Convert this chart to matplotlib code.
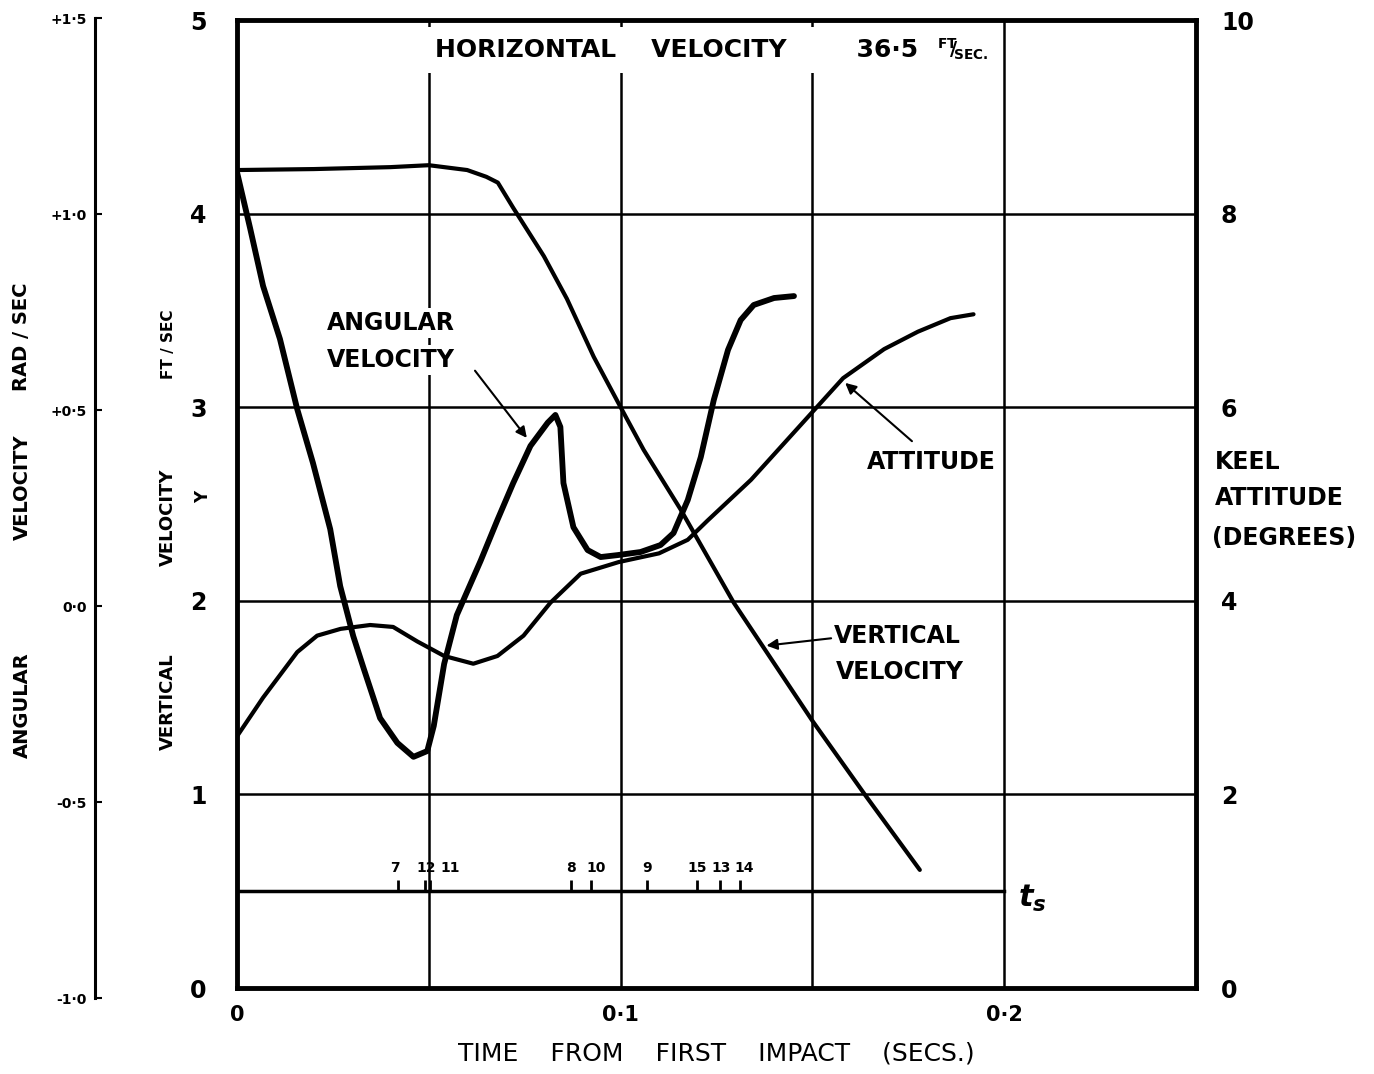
import matplotlib
matplotlib.use("Agg")
import matplotlib.pyplot as plt

plt.rcParams['font.family'] = ['DejaVu Sans']
plt.rcParams['font.weight'] = 'bold'

# vertical velocity (ft/sec)
t_vv = [0, 0.02, 0.04, 0.05, 0.06, 0.065, 0.068, 0.072, 0.08, 0.086, 0.093,
        0.1, 0.106, 0.1157, 0.1295, 0.15, 0.164, 0.178]
vv = [4.225, 4.23, 4.24, 4.25, 4.225, 4.19, 4.16, 4.03, 3.78, 3.56, 3.26,
      3.0, 2.78, 2.47, 1.99, 1.38, 0.99, 0.61]

# angular velocity (rad/sec)
t_av = [0, 0.0034, 0.0068, 0.0112, 0.0157, 0.0198, 0.0243, 0.0269, 0.0303,
        0.033, 0.0373, 0.0418, 0.046, 0.0496, 0.0513, 0.054, 0.0573, 0.0635,
        0.0679, 0.072, 0.0765, 0.081, 0.083, 0.0843, 0.0851, 0.0877, 0.0914,
        0.0948, 0.0992, 0.1052, 0.1104, 0.1138, 0.1175, 0.1209, 0.1243,
        0.128, 0.1313, 0.1347, 0.14, 0.1452]
av = [1.107, 0.963, 0.813, 0.676, 0.495, 0.356, 0.185, 0.038, -0.091,
      -0.174, -0.303, -0.367, -0.403, -0.388, -0.323, -0.163, -0.037, 0.103,
      0.209, 0.304, 0.40, 0.46, 0.48, 0.449, 0.304, 0.19, 0.131,
      0.113, 0.118, 0.126, 0.144, 0.175, 0.26, 0.371, 0.519,
      0.648, 0.725, 0.764, 0.782, 0.787]

# keel attitude (degrees)
t_att = [0, 0.0068, 0.0157, 0.0209, 0.027, 0.0347, 0.0407, 0.047, 0.054,
         0.0616, 0.0679, 0.0747, 0.0817, 0.0896, 0.0995, 0.110, 0.1175,
         0.1227, 0.134, 0.150, 0.158, 0.1687, 0.1775, 0.186, 0.192]
att = [2.60, 3.0, 3.47, 3.64, 3.71, 3.75, 3.73, 3.58, 3.43,
       3.35, 3.43, 3.64, 3.98, 4.28, 4.40, 4.49, 4.63,
       4.83, 5.25, 5.95, 6.30, 6.60, 6.78, 6.92, 6.96]

# t_s event marks
ts_level = 0.5
ts_end = 0.2
ts_times = [0.042, 0.049, 0.0504, 0.0872, 0.0924, 0.107, 0.120, 0.126, 0.131]
ts_lab_x = [0.0413, 0.0494, 0.0555, 0.0872, 0.0935, 0.107, 0.120, 0.1262, 0.1322]
ts_labels = ['7', '12', '11', '8', '10', '9', '15', '13', '14']

W, H = 1374, 1074
fig = plt.figure(figsize=(W / 100, H / 100), dpi=100)

def fx(px):
    return px / W

def fy(py):
    return 1 - py / H

ax = fig.add_axes([fx(237), fy(988), fx(1196) - fx(237), fy(20) - fy(988)])
ax.set_xlim(0, 0.25)
ax.set_ylim(0, 5)
ax.set_xticks([0, 0.05, 0.1, 0.15, 0.2, 0.25])
ax.set_xticklabels(['0', '', '0·1', '', '0·2', ''])
ax.set_yticks([0, 1, 2, 3, 4, 5])
ax.tick_params(axis='x', length=0, pad=12, labelsize=15)
ax.tick_params(axis='y', length=0, pad=22, labelsize=17)
ax.grid(True, color='black', lw=1.8)
ax.set_axisbelow(True)
for s in ax.spines.values():
    s.set_linewidth(3.5)

ax.plot(t_vv, vv, color='black', lw=3.0, zorder=4, solid_capstyle='round')

# t_s line
ax.plot([0, ts_end], [ts_level, ts_level], color='black', lw=2.5, zorder=4)
ax.vlines(ts_times, ts_level, ts_level + 0.06, color='black', lw=2, zorder=4)
for xl, lab in zip(ts_lab_x, ts_labels):
    ax.text(xl, ts_level + 0.12, lab, fontsize=10, ha='center', va='center')
ax.text(0.2035, 0.46, r'$t_s$', fontsize=22, ha='left', va='center')

box = dict(facecolor='white', edgecolor='none', pad=2)
ax.text(0.0517, 4.845, 'HORIZONTAL    VELOCITY        36·5', fontsize=18,
        ha='left', va='center', bbox=dict(facecolor='white', edgecolor='none',
                                           pad=8), zorder=3)
ax.text(0.1825, 4.85, r'$^{\mathbf{FT}}\!\!/\!_{\mathbf{SEC.}}$', fontsize=14,
        ha='left', va='center', bbox=dict(facecolor='white', edgecolor='none',
                                           pad=6), zorder=3)

ax.text(0.0235, 3.435, 'ANGULAR', fontsize=17, ha='left', va='center',
        bbox=box, zorder=3)
ax.text(0.0235, 3.244, 'VELOCITY', fontsize=17, ha='left', va='center',
        bbox=box, zorder=3)
ax.annotate('', xy=(0.076, 2.83), xytext=(0.0616, 3.20),
            arrowprops=dict(arrowstyle='-|>', color='black', lw=1.5,
                            mutation_scale=16), zorder=3)

ax.text(0.181, 2.717, 'ATTITUDE', fontsize=17, ha='center', va='center',
        bbox=box, zorder=3)
ax.annotate('', xy=(0.158, 3.135), xytext=(0.1765, 2.815),
            arrowprops=dict(arrowstyle='-|>', color='black', lw=1.5,
                            mutation_scale=16), zorder=3)

ax.text(0.1556, 1.818, 'VERTICAL', fontsize=17, ha='left', va='center',
        bbox=box, zorder=3)
ax.text(0.156, 1.632, 'VELOCITY', fontsize=17, ha='left', va='center',
        bbox=box, zorder=3)
ax.annotate('', xy=(0.1373, 1.767), xytext=(0.1556, 1.808),
            arrowprops=dict(arrowstyle='-|>', color='black', lw=1.5,
                            mutation_scale=16), zorder=3)

ax.set_xlabel('TIME    FROM    FIRST    IMPACT    (SECS.)', fontsize=18,
              labelpad=12)

# angular velocity on its own scale
ax_av = ax.twinx()
ax_av.set_ylim(-1.0, 1.5)
ax_av.axis('off')
ax_av.plot(t_av, av, color='black', lw=4.2, solid_capstyle='round')

# keel attitude on right scale
ax_att = ax.twinx()
ax_att.set_ylim(0, 10)
ax_att.set_yticks([0, 2, 4, 6, 8, 10])
ax_att.tick_params(axis='y', length=0, pad=18, labelsize=17)
for s in ax_att.spines.values():
    s.set_visible(False)
ax_att.plot(t_att, att, color='black', lw=3.0, solid_capstyle='round')

fig.text(fx(1215), fy(462), 'KEEL', fontsize=17, ha='left', va='center')
fig.text(fx(1215), fy(498), 'ATTITUDE', fontsize=17, ha='left', va='center')
fig.text(fx(1212), fy(538), '(DEGREES)', fontsize=17, ha='left', va='center')

# outer rad/sec scale
ax_l = fig.add_axes([fx(95), fy(998), 0.0005, fy(18) - fy(998)])
ax_l.set_ylim(-1.0, 1.5)
ax_l.set_xticks([])
ax_l.set_yticks([-1.0, -0.5, 0, 0.5, 1.0, 1.5])
ax_l.set_yticklabels(['-1·0', '-0·5', '0·0', '+0·5', '+1·0', '+1·5'])
ax_l.tick_params(axis='y', direction='in', length=5, width=1.5, pad=6,
                 labelsize=10)
for k in ['top', 'right', 'bottom']:
    ax_l.spines[k].set_visible(False)
ax_l.spines['left'].set_linewidth(2.2)
ax_l.patch.set_visible(False)

fig.text(fx(22), fy(705), 'ANGULAR', fontsize=14, rotation=90, ha='center', va='center')
fig.text(fx(22), fy(487), 'VELOCITY', fontsize=14, rotation=90, ha='center', va='center')
fig.text(fx(22), fy(337), 'RAD / SEC', fontsize=14, rotation=90, ha='center', va='center')

fig.text(fx(168), fy(702), 'VERTICAL', fontsize=13, rotation=90, ha='center', va='center')
fig.text(fx(168), fy(517), 'VELOCITY', fontsize=13, rotation=90, ha='center', va='center')
fig.text(fx(168), fy(344), 'FT / SEC', fontsize=11, rotation=90, ha='center', va='center')
fig.text(fx(203), fy(497), 'Y', fontsize=12, rotation=90, ha='center', va='center')

fig.savefig('out.png', dpi=100)
